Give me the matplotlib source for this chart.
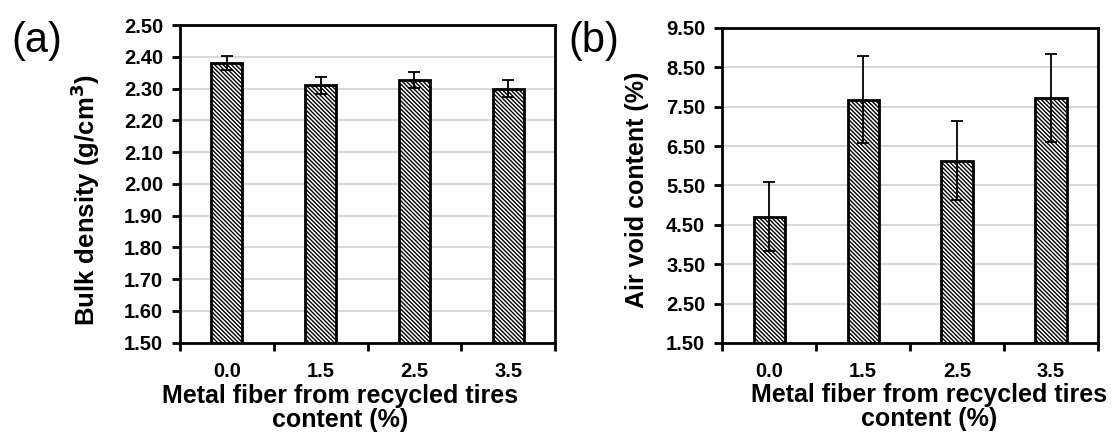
import numpy as np
import matplotlib.pyplot as plt

plt.rcParams['font.family'] = ['Liberation Sans', 'DejaVu Sans']
plt.rcParams['hatch.linewidth'] = 1.0

# data
contents = ['0.0', '1.5', '2.5', '3.5']
bulk_density = [2.38, 2.31, 2.327, 2.30]
bulk_err = [0.022, 0.027, 0.025, 0.027]
air_void = [4.71, 7.68, 6.13, 7.73]
air_err = [0.88, 1.10, 1.00, 1.12]

fig = plt.figure(figsize=(11.12, 4.33), dpi=100)
ax1 = fig.add_axes([0.1619, 0.209, 0.3372, 0.733])
ax2 = fig.add_axes([0.6493, 0.208, 0.3381, 0.7274])


def draw(ax, vals, errs, ylim, step, ylabel, ylabel_size, xl_pos, yl_pos):
    x = np.arange(len(contents))
    ax.set_axisbelow(True)
    ax.yaxis.grid(True, color='#d9d9d9', linewidth=1.5)
    ax.bar(x, vals, width=0.33, color='white', edgecolor='black',
           linewidth=2, hatch='\\' * 8, zorder=2)
    ax.errorbar(x, vals, yerr=errs, fmt='none', ecolor='black',
                elinewidth=1.3, capsize=4, capthick=1.3, zorder=3)
    ax.set_xlim(-0.5, len(contents) - 0.5)
    ax.set_ylim(*ylim)
    ax.set_yticks(np.arange(ylim[0], ylim[1] + step / 2, step))
    ax.set_yticklabels([f'{v:.2f}' for v in ax.get_yticks()],
                       fontsize=14.5, fontweight='bold')
    ax.set_xticks(x)
    ax.set_xticklabels(contents, fontsize=14.5, fontweight='bold')
    ax.set_xticks(np.arange(-0.5, len(contents), 1.0), minor=True)
    ax.tick_params(axis='x', which='major', length=0, pad=14)
    ax.tick_params(axis='x', which='minor', length=6, width=2, direction='out')
    ax.tick_params(axis='y', length=6, width=2, direction='out', pad=6)
    for s in ax.spines.values():
        s.set_linewidth(2)
    ax.set_xlabel('Metal fiber from recycled tires\ncontent (%)',
                  fontsize=18, fontweight='bold', linespacing=1.0)
    ax.set_ylabel(ylabel, fontsize=ylabel_size, fontweight='bold')
    ax.xaxis.set_label_coords(*xl_pos)
    ax.yaxis.set_label_coords(*yl_pos)


draw(ax1, bulk_density, bulk_err, (1.5, 2.5), 0.1,
     'Bulk density (g/cm$^\\mathbf{3}$)', 18.5, (0.427, -0.13), (-0.208, 0.45))
draw(ax2, air_void, air_err, (1.5, 9.5), 1.0,
     'Air void content (%)', 18, (0.55, -0.128), (-0.195, 0.486))

fig.text(0.010, 0.88, '(a)', fontsize=30)
fig.text(0.511, 0.88, '(b)', fontsize=30)

plt.savefig('out.png', dpi=100)
